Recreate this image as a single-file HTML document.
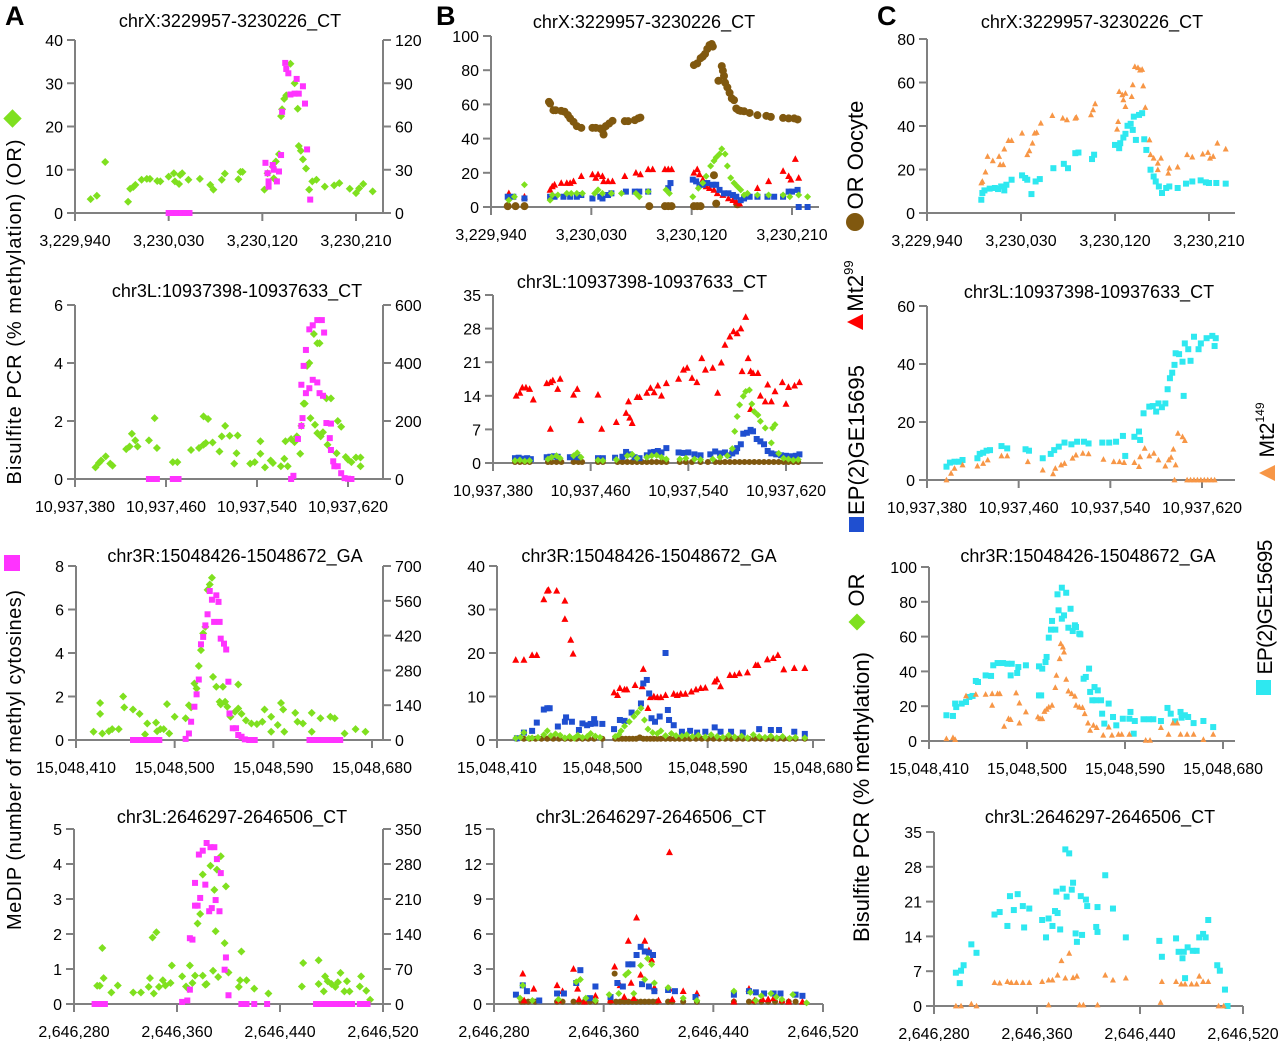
<!DOCTYPE html>
<html><head><meta charset="utf-8"><style>
html,body{margin:0;padding:0;background:#fff}
svg{display:block;font-family:"Liberation Sans",Arial,sans-serif}
</style></head><body>
<svg id="fig" width="1280" height="1044" viewBox="0 0 1280 1044" xmlns="http://www.w3.org/2000/svg">
<rect width="1280" height="1044" fill="#fff"/>
<text x="5" y="25" font-size="27" font-weight="bold">A</text>
<text x="436" y="25" font-size="27" font-weight="bold">B</text>
<text x="877" y="25" font-size="27" font-weight="bold">C</text>
<g>
<rect x="6" y="112" width="13" height="13" fill="#7fe01f" transform="rotate(45 12.5 118.5)"/>
<text transform="translate(21,312) rotate(-90)" text-anchor="middle" font-size="20" textLength="345">Bisulfite PCR  (% methylation) (OR)</text>
<rect x="4" y="555" width="16" height="16" fill="#ff33ff"/>
<text transform="translate(21,760) rotate(-90)" text-anchor="middle" font-size="20" textLength="340">MeDIP (number of methyl cytosines)</text>
</g>
<g>
<circle cx="855" cy="222" r="9" fill="#80580f"/>
<text transform="translate(863,155) rotate(-90)" text-anchor="middle" font-size="22">OR Oocyte</text>
<polygon points="847,330 863,330 855,314" fill="#ff0000" transform="rotate(-90 855 322)"/>
<text transform="translate(863,286) rotate(-90)" text-anchor="middle" font-size="22">Mt2<tspan font-size="13" dy="-10">99</tspan></text>
<rect x="849" y="517" width="15" height="15" fill="#1f4fd0"/>
<text transform="translate(864,440) rotate(-90)" text-anchor="middle" font-size="22" textLength="150">EP(2)GE15695</text>
<rect x="851" y="616" width="12" height="12" fill="#7fe01f" transform="rotate(45 857 622)"/>
<text transform="translate(864,590) rotate(-90)" text-anchor="middle" font-size="22">OR</text>
<text transform="translate(869,797) rotate(-90)" text-anchor="middle" font-size="22" textLength="290">Bisulfite PCR  (% methylation)</text>
</g>
<g>
<polygon points="1259,481 1275,481 1267,465" fill="#f79646" transform="rotate(-90 1267 473)"/>
<text transform="translate(1274,430) rotate(-90)" text-anchor="middle" font-size="21">Mt2<tspan font-size="12" dy="-10">149</tspan></text>
<rect x="1256" y="680" width="15" height="15" fill="#2ee8f0"/>
<text transform="translate(1272,607) rotate(-90)" text-anchor="middle" font-size="21" textLength="135">EP(2)GE15695</text>
</g>
</svg>
<script>
// ---------- DATA (offsets from region start, value) ----------
const a1OrPts=[[15,3.2],[21,4],[29,11.8],[51,2.6],[53,5.6],[56,6],[58,6.5],[64,7.7],[69,7.9],[72,7.9],[79,7.4],[82,7.3],[90,8.4],[95,9.2],[96,7.3],[100,6.7],[101,8.8],[103,9.2],[109,7.7],[120,7.9],[130,6.5],[133,5.4],[141,7.7],[144,9.1],[157,7.8],[159,9.5],[161,9.5],[182,5.4],[185,9.2],[190,10.7],[191,8],[193,11.9],[196,13.6],[198,22.4],[199,24],[201,26.4],[203,27.2],[207,34.5],[211,30],[214,24.1],[215,15.5],[217,14.4],[219,12.4],[222,10.3],[225,5.4],[228,7.3],[232,7.7],[240,6.1],[249,6.4],[254,6.9],[264,5.6],[270,4.6],[273,5.7],[277,6.7],[286,5]];
const a1MedipPts=[[90,0],[94,0],[98,0],[102,0],[106,0],[110,0],[183,11.6],[185,9.2],[186,7.3],[186,6.1],[190,11.1],[191,10],[194,7.3],[196,9.6],[198,13.4],[199,23.4],[202,34.7],[203,33.3],[205,32.3],[207,27.4],[211,27.6],[213,31],[215,27.6],[219,29.3],[221,25.3],[223,14.7],[226,3.1]];
const a2OrPts=[[18,0.4],[21,0.55],[23,0.64],[27,0.78],[31,0.53],[33,0.46],[45,1.03],[48,1.12],[50,1.56],[53,1.33],[55,1.12],[65,1.33],[70,2.1],[72,1.07],[86,0.58],[90,0.58],[102,1],[109,1.07],[113,1.18],[115,1.24],[113,2.16],[117,2.07],[121,1.26],[127,0.95],[129,1.47],[132,1.83],[136,1.49],[140,0.53],[142,0.89],[143,1.5],[154,0.53],[158,0.58],[163,0.87],[163,1.3],[167,0.4],[172,0.64],[174,0.55],[181,0.44],[184,0.7],[185,1.3],[187,0.44],[190,1.38],[193,1.27],[195,1.47],[198,0.87],[199,1.83],[201,2.6],[202,2.6],[204,3.9],[206,4],[207,2.1],[210,5],[211,1.87],[213,4.68],[215,4.68],[213,1.58],[216,1.47],[218,1.61],[221,2.78],[222,1.18],[225,2.78],[230,0.89],[231,2],[234,1.8],[238,0.76],[240,0.67],[243,0.58],[247,0.74],[251,0.74],[251,0.44]];
const a2MedipPts=[[65,0],[67,0],[70,0],[72,0],[86,0],[88,0],[91,0],[190,0],[192,0.11],[196,1.38],[199,1.83],[200,2.1],[199,3.25],[201,3.9],[203,4.45],[206,5.16],[209,5.3],[213,5.48],[217,5.48],[219,5.05],[203,2.96],[206,3.13],[209,3.42],[213,3.33],[215,2.96],[218,2.87],[221,1.93],[225,1.91],[224,1.41],[225,1],[227,0.61],[228,0.44],[231,0.44],[234,0.2],[237,0.03],[240,0.01],[243,0]];
const a3OrPts=[[16,0.38],[22,1.2],[22,1.7],[24,0.3],[30,0.4],[33,0.5],[39,0.5],[43,2],[44,1.5],[52,1.4],[58,1.2],[63,0.26],[65,0.76],[73,0.8],[74,0.4],[77,0.5],[80,0.5],[83,1.65],[85,0.3],[90,1.07],[100,1],[103,1.6],[105,1.5],[108,2.6],[110,2.37],[112,3.4],[114,4.13],[116,4.9],[118,5.2],[120,6.9],[122,7.15],[124,7.46],[125,2.9],[128,2.45],[131,1.76],[132,1.64],[134,2.45],[136,1.76],[138,1.53],[141,1.07],[145,1.3],[148,2.55],[148,1.45],[151,1.2],[155,0.9],[160,0.76],[165,0.73],[170,0.84],[172,1.4],[178,1.07],[178,0.38],[184,0.69],[187,1.7],[189,1.4],[190,0.38],[200,1.25],[202,0.84],[207,0.76],[215,1.25],[215,0.38],[223,1],[232,1.07],[236,1],[245,0.3],[255,0.5],[264,0.38]];
const a3MedipPts=[[52,0],[56,0],[60,0],[64,0],[68,0],[72,0],[76,0],[100,0.05],[103,0.3],[105,0.84],[108,1.53],[110,2.1],[112,2.78],[114,4.4],[116,4.74],[118,5.27],[120,5.78],[122,6.85],[124,6.45],[126,5.43],[128,6.65],[130,6.35],[131,5.43],[132,4.66],[135,4.43],[137,4.16],[139,2.68],[140,1.22],[143,0.54],[146,0.54],[148,0.23],[151,0.15],[154,0.03],[158,0],[163,0],[213,0],[218,0],[222,0],[226,0],[230,0],[234,0],[238,0],[241,0]];
const a4OrPts=[[18,0.52],[20,0.52],[22,1.6],[23,0.74],[29,0.33],[34,0.53],[46,0.33],[52,0.33],[58,0.49],[59,0.74],[61,1.9],[62,0.3],[64,2.05],[66,0.49],[69,0.68],[71,0.53],[75,0.6],[76,1.1],[84,0.79],[87,0.5],[89,0.43],[90,1.1],[92,0.6],[94,0.81],[96,2.3],[98,2.57],[100,3.7],[100,0.81],[102,0.55],[103,0.57],[106,3.95],[108,0.95],[109,3.26],[110,2.08],[111,3.84],[112,0.77],[114,4.22],[117,1.74],[118,3.36],[120,0.9],[128,0.49],[129,0.68],[130,1.5],[134,0.68],[140,0.44],[151,0.3],[177,0.5],[178,1.17],[190,0.57],[190,1.25],[194,0.36],[195,0.79],[197,0.65],[200,0.57],[203,0.49],[205,0.62],[207,0.89],[210,0.36],[212,0.65],[214,0.36],[222,0.5],[223,0.79],[227,0.38],[230,0.12]];
const a4MedipPts=[[16,0],[18,0],[20,0],[22,0],[24,0],[84,0.06],[88,0.1],[90,0.41],[90,1.88],[92,1.84],[94,3.46],[94,2.81],[96,2.81],[97,4.27],[98,3.03],[100,4.38],[102,3.41],[103,4.6],[105,2.65],[106,4.48],[107,2.74],[109,4.48],[110,2.97],[111,4.14],[113,2.65],[114,3.74],[117,0.98],[118,1.33],[120,0.25],[130,0],[132,0],[134,0],[140,0],[150,0],[188,0],[192,0],[196,0],[200,0],[204,0],[208,0],[212,0],[216,0],[222,0],[225,0],[228,0]];

const b1OocytePts=[[52,61.5],[53,60.5],[56,56.6],[58,56.6],[63,56.2],[66,55.7],[69,53.7],[71,51.8],[74,49.8],[77,47.3],[81,46.3],[91,46.3],[94,46.3],[98,45.9],[100,44.9],[101,42.4],[103,47.3],[106,48.8],[109,50.4],[120,50.2],[123,50.2],[129,50.8],[132,51.8],[134,52.3],[15,0.5],[22,0.5],[30,0.5],[142,0.5],[156,0.5],[159,0.5],[162,0.5],[182,0.5],[185,0.5],[188,0.5],[182,83],[185,84],[188,87],[190,88],[192,89.5],[194,92.4],[196,94.7],[198,95.3],[199,93.8],[200,18.6],[202,2],[204,73.8],[207,82.4],[208,79.7],[209,76.6],[210,72.7],[212,70],[214,66.8],[216,63.5],[218,62.5],[220,57.6],[222,56.6],[224,56.2],[227,56],[232,55],[239,53.7],[247,53.3],[251,52.7],[262,52.1],[267,51.8],[272,51.8],[275,51.2],[221,1.6]];
const b1Mt2Pts=[[16,8],[30,6],[53,10],[55,12],[57,13],[63,14],[68,14],[71,14],[74,15],[81,18],[91,19],[94,17],[96,19],[100,18],[101,15],[105,15],[109,15],[120,18],[130,20],[134,19],[141,22],[145,22],[156,22],[159,22],[162,22],[182,20],[185,22],[187,19],[190,16],[193,12],[196,11],[200,10],[203,8],[208,7],[213,5],[217,4],[220,3],[223,2],[239,11],[249,15],[262,21],[267,18],[269,16],[273,28],[276,17]];
const b1EpPts=[[15,6],[20,6],[30,5],[53,6],[57,6],[65,6],[71,6],[77,6],[81,7],[91,5],[98,6],[100,5],[105,7],[108,8],[121,9],[129,9],[133,9],[141,9],[159,11],[161,14],[181,16],[184,15],[187,13],[190,13],[194,14],[199,13],[202,13],[205,10],[209,8],[213,8],[217,7],[220,6],[224,4],[227,5],[232,6],[239,6],[248,6],[254,6],[262,6],[267,9],[270,9],[275,10],[276,0],[284,0]];
const b1OrPts=[[16,4],[21,6],[30,13],[53,4],[55,7],[60,7],[68,8],[72,8],[77,8],[82,8],[93,8],[96,10],[100,8],[108,8],[117,8],[130,8],[133,6],[141,9],[157,10],[160,8],[181,6],[186,11],[190,14],[193,18],[197,24],[200,27],[202,29],[205,31],[207,34],[210,31],[212,24],[215,17],[218,14],[221,12],[224,10],[227,7],[230,8],[239,7],[249,7],[262,7],[268,6],[276,7],[284,6]];

const b2Mt2Pts=[[19,14],[22,14.6],[24,15.7],[27,15.7],[30,15.4],[33,13.2],[44,16.6],[47,16.8],[47,7.1],[49,17.2],[53,15.4],[55,17.5],[66,14.2],[69,15.4],[72,8.9],[86,14.2],[89,7.1],[101,8.5],[109,10.4],[111,12.8],[112,9.4],[114,8.3],[118,13.7],[120,13.7],[126,14.6],[129,15.6],[132,14.7],[135,16.1],[138,14],[142,16.6],[152,17.5],[156,19.4],[159,19.8],[163,17.7],[167,16.8],[171,21.8],[174,19.4],[180,19.8],[184,14.6],[187,20.9],[190,24.6],[194,26.3],[197,27.4],[200,27],[203,28],[207,30.4],[209,21.8],[211,19.1],[204,19.1],[211,11.2],[213,18.7],[217,18.7],[219,14],[223,12.8],[225,16.3],[228,12.8],[231,14.9],[237,16.8],[240,12.3],[242,15.8],[247,16.1],[251,16.8]];
const b2EpPts=[[18,1],[21,1.1],[24,0.9],[28,1],[31,0.8],[44,1.2],[47,1.3],[50,1.4],[53,1.3],[63,1.2],[67,1.3],[70,1.2],[86,1],[90,1],[100,1.1],[106,1.3],[109,2.3],[112,1.8],[116,1.2],[120,1],[126,1.6],[129,2.2],[132,2.3],[135,2.5],[138,2.2],[142,3.1],[152,2.2],[156,2.1],[160,2.2],[165,1.8],[170,1.6],[178,1.8],[182,2.4],[186,2],[190,2.2],[193,1.6],[196,2],[199,2.4],[200,3.1],[203,3.9],[205,6.1],[208,6.3],[211,6.9],[213,6.6],[216,5],[219,4.5],[222,3.9],[225,2.5],[228,2],[232,1.8],[236,1.6],[240,1.5],[244,1.4],[248,1.5],[251,1.8]];
const b2OrPts=[[18,0.5],[22,0.6],[26,0.4],[30,0.5],[45,0.8],[48,1.2],[52,1.5],[55,1],[66,1.5],[69,2.1],[72,1.2],[86,0.6],[90,0.5],[101,0.7],[110,1.5],[114,1.8],[118,1],[126,1.2],[130,1.5],[134,1.6],[138,1.2],[142,0.8],[153,0.8],[158,1],[165,0.8],[170,0.7],[180,0.8],[186,1.2],[192,1.5],[196,3],[198,6.6],[200,9.7],[202,12.1],[205,13.9],[207,14.9],[210,15.2],[212,12.3],[214,10.7],[217,10],[219,8.7],[223,7.3],[228,4.2],[229,7.3],[231,8],[234,2],[238,1],[242,0.8],[246,0.6],[250,0.7]];
const b2OocytePts=[[18,0.2],[22,0.2],[26,0.2],[30,0.2],[45,0.2],[48,0.2],[52,0.2],[56,0.2],[66,0.2],[70,0.2],[73,0.2],[86,0.2],[90,0.2],[102,0.2],[106,0.2],[110,0.2],[114,0.2],[118,0.2],[122,0.2],[126,0.2],[130,0.2],[134,0.2],[138,0.2],[142,0.2],[153,0.2],[158,0.2],[163,0.2],[170,0.2],[176,0.2],[182,0.2],[186,0.2],[190,0.2],[194,0.2],[198,0.2],[202,0.2],[206,0.2],[210,0.2],[214,0.2],[218,0.2],[222,0.2],[226,0.2],[230,0.2],[234,0.2],[238,0.2],[242,0.2],[246,0.2],[250,0.2]];

const b3Mt2Pts=[[16,18.4],[23,18.4],[30,19.5],[34,19.5],[40,32.3],[43,34.3],[44,34.5],[51,34.3],[58,32],[58,27.8],[63,23],[65,19.8],[100,10.9],[103,10.3],[105,11.9],[109,11.6],[111,11.6],[118,12.6],[124,12.3],[125,16.3],[129,7.3],[131,9.8],[134,10],[137,9.8],[140,9.8],[144,10.3],[151,10.6],[154,10.3],[157,10.6],[161,10.6],[166,11.1],[170,11.6],[174,11.9],[178,12],[186,13.4],[188,13.9],[191,12.3],[199,14.9],[203,14.9],[207,15.3],[214,15.5],[221,17.2],[223,17.2],[231,18.5],[236,18.8],[240,19.5],[245,16.2],[254,16.5],[263,16.5]];
const b3EpPts=[[17,0.4],[23,1.7],[30,2.1],[34,4],[40,7],[43,7.3],[45,7.3],[52,3.1],[58,4.2],[59,5.2],[64,4.2],[70,2.3],[73,3.8],[77,3.4],[80,3.7],[83,4.8],[84,3.8],[90,3.7],[100,2.5],[105,4.6],[109,4.4],[115,6.3],[123,8.4],[125,13],[128,13.8],[130,10.7],[132,5],[135,4.2],[139,5.4],[144,20],[146,6.9],[147,4.6],[151,3.4],[158,1.9],[165,2.1],[171,1.7],[178,1.9],[186,2.9],[191,1.9],[200,1.9],[210,1.7],[224,2.5],[234,2.3],[241,2.3],[254,1.9],[263,1.4]];
const b3OrPts=[[16,0.4],[20,0.6],[23,1.7],[27,0.4],[30,0.5],[35,0.6],[40,1.2],[43,2.1],[46,1],[50,1.4],[54,1.1],[58,0.5],[62,0.8],[66,0.4],[69,1.1],[73,0.6],[77,0.8],[80,1.5],[84,0.9],[88,0.6],[101,0.8],[104,1.2],[106,2.1],[109,3.2],[113,4.2],[117,5.4],[120,6.3],[123,7.3],[126,4.6],[129,2.5],[133,1.7],[137,1.5],[140,2.1],[144,1],[149,1.5],[153,1],[158,0.9],[162,1.2],[167,0.8],[172,1.1],[178,0.7],[183,1.2],[188,0.8],[193,0.6],[198,1.1],[203,0.7],[209,0.9],[214,0.5],[219,1.2],[224,0.8],[229,0.6],[234,0.9],[239,0.5],[244,0.8],[250,0.4],[255,0.6],[263,0.5]];
const b3OocytePts=[[17,0.3],[23,0.3],[28,0.3],[33,0.3],[38,0.3],[43,0.3],[48,0.3],[53,0.3],[58,0.3],[63,0.3],[68,0.3],[73,0.3],[78,0.3],[83,0.3],[90,0.3],[101,0.3],[104,0.3],[107,0.3],[110,0.3],[113,0.3],[116,0.3],[119,0.3],[122,0.6],[125,0.3],[128,0.3],[131,0.3],[134,0.3],[137,0.3],[140,0.3],[144,0.3],[148,0.3],[152,0.3],[156,0.3],[160,0.3],[165,0.3],[170,0.3],[175,0.3],[180,0.3],[185,0.3],[190,0.3],[195,0.3],[200,0.3],[205,0.3],[210,0.3],[215,0.3],[220,0.3],[225,0.3],[230,0.3],[235,0.3],[240,0.3],[245,0.3],[250,0.3],[255,0.3],[263,0.3]];

const b4Mt2Pts=[[21,2.6],[29,1.3],[46,1.6],[50,1.1],[58,3],[61,1.3],[74,0.7],[88,3.2],[92,1.6],[98,5.4],[100,1.8],[104,7.4],[107,2.5],[110,5.4],[113,4.6],[115,3.8],[117,1.4],[128,13],[128,1.3],[138,1.1],[148,0.9],[175,0.2],[186,1.3],[196,0.4],[204,0.5],[22,0.3],[47,0.3],[62,0.4],[66,0.2],[85,0.3],[95,0.6],[102,0.5],[120,0.3],[130,0.4],[190,0.3],[200,0.4],[210,0.3],[215,0.2],[225,0.2]];
const b4EpPts=[[16,0.8],[21,1.6],[24,1.1],[33,0.3],[46,0.9],[51,0.9],[60,1.8],[63,2.9],[70,0.5],[74,1.5],[85,0.6],[90,1.8],[94,1.5],[98,3.4],[101,3.4],[104,4.2],[107,4.9],[110,4.5],[113,4.4],[116,4.2],[108,1.7],[113,1.5],[117,1.1],[127,1.2],[132,1.1],[147,0.6],[175,0.8],[186,1.1],[191,1],[197,0.9],[204,0.9],[209,0.9],[220,0.8],[225,0.7]];
const b4OrPts=[[19,0.5],[21,1.6],[28,0.3],[47,0.4],[60,1.9],[63,2.1],[67,0.5],[74,0.3],[84,0.8],[91,0.9],[96,2.5],[98,2.7],[102,0.9],[107,3.3],[110,2.1],[112,3.9],[115,3.4],[117,1.8],[127,1.4],[138,0.5],[148,0.3],[175,1.1],[187,1],[191,0.3],[195,0.7],[202,0.9],[206,0.6],[210,0.4],[218,0.8],[228,0.1]];
const b4OocytePts=[[20,0.2],[22,0.2],[25,0.2],[30,0.2],[46,0.2],[50,0.2],[58,0.2],[62,0.2],[66,0.2],[70,0.2],[74,0.2],[85,0.2],[88,2.6],[89,0.2],[92,0.2],[95,0.2],[98,0.2],[101,0.2],[104,0.2],[107,0.2],[110,0.2],[113,0.2],[116,0.2],[119,0.2],[127,0.2],[130,0.2],[138,0.2],[148,0.2],[175,0.2],[186,0.2],[190,0.2],[195,0.2],[200,0.2],[205,0.2],[210,0.2],[215,0.2],[220,0.2]];

const c1Mt2Pts=[[52,13.8],[53,14.5],[56,18.8],[58,26],[63,24],[69,26],[70,22.2],[73,22.2],[74,29.4],[78,33.3],[81,33.3],[91,36.7],[96,26.8],[98,28.6],[101,32.1],[103,36.7],[105,37],[109,41.3],[120,44.8],[130,43.6],[134,42.8],[142,43.6],[143,44],[157,45.1],[159,47.4],[161,50.2],[182,38.5],[183,42],[184,55.8],[187,54.3],[188,52],[190,55],[190,48.9],[196,53.5],[197,58.9],[199,67.3],[202,66.8],[204,65.7],[206,66],[207,58.4],[209,48.5],[213,33.6],[214,26.8],[217,25.2],[221,22.9],[224,25.2],[221,19.9],[232,20.6],[231,18.3],[240,21.1],[249,26.8],[254,25.7],[264,27.1],[269,27.8],[271,25.2],[274,26],[278,32.1],[286,29.4]];
const c1EpPts=[[52,6.1],[53,9.2],[55,10.4],[60,11.2],[65,11.5],[68,11],[71,12.2],[74,10.4],[76,13],[81,15.3],[91,17.3],[94,16.1],[96,15.3],[100,8.7],[104,14.5],[108,15.6],[121,20.6],[131,22.6],[135,20.6],[142,27.5],[145,27.8],[158,24.8],[160,26.8],[180,31.3],[184,29.8],[185,32.1],[188,34.7],[190,36.4],[192,40.1],[195,41],[197,38.2],[200,33.6],[198,44.3],[203,45.1],[206,45.9],[208,33.9],[210,29],[214,19.9],[217,16.8],[219,14.5],[222,12.2],[225,9.2],[229,11.5],[232,12.2],[240,11.5],[248,13.5],[254,14.5],[262,15],[267,14.1],[270,13.8],[277,13.8],[286,13.5]];
const c2EpPts=[[17,4.6],[20,6],[24,6.3],[28,6.3],[31,6.9],[44,7.5],[46,9],[49,9.4],[52,10.1],[55,10.3],[65,11.7],[70,10.9],[86,10.6],[89,10.1],[101,7.5],[108,9],[111,10.3],[115,11.5],[120,12.9],[126,12.3],[131,13.2],[137,13.2],[141,12.6],[153,12.9],[159,12.9],[165,13.2],[171,15.2],[173,8.3],[181,14.9],[185,16.7],[186,13.8],[189,23],[194,25.3],[197,25.5],[200,23.6],[202,26.4],[205,25.1],[208,26.4],[210,31.3],[212,35.1],[214,37],[216,39.7],[217,43.7],[220,43.4],[223,40.8],[224,29],[225,47.1],[228,45.1],[230,41.1],[233,49.4],[237,45.1],[239,47.1],[244,48.9],[249,49.7],[252,48.9],[251,46.2]];
const c2Mt2Pts=[[17,0],[21,2.3],[24,4],[31,5.2],[44,4.8],[49,5.7],[53,6.9],[65,8.3],[70,8.3],[88,6.3],[101,3.4],[110,2.1],[112,4],[117,5.2],[120,5.7],[127,7.5],[130,8.6],[136,9.2],[141,9],[154,7.1],[163,6.3],[168,6.3],[172,6],[181,6],[185,4.6],[186,8],[190,10.9],[194,8.3],[198,9.2],[202,6.9],[208,4.8],[211,6.9],[213,7.8],[215,10.6],[217,5.2],[219,16.1],[223,14.9],[225,13.6],[216,0],[227,0],[230,0],[233,0],[236,0],[239,0],[242,0],[245,0],[248,0],[251,0]];
const c3EpPts=[[16,14.8],[22,14.4],[24,21.5],[25,19.5],[30,21.5],[34,22.4],[37,25.3],[40,25.9],[43,34.5],[45,33.9],[52,37.7],[57,37.4],[59,43.5],[63,44.8],[68,44.8],[72,44.4],[75,37.7],[76,44.4],[81,39.1],[82,42.5],[89,43.5],[101,26.2],[103,26.2],[101,42.9],[104,41.6],[107,45.4],[108,48.3],[110,59.4],[112,64],[113,69],[116,64],[118,84.3],[119,75.1],[122,70.3],[122,88.1],[124,72.2],[126,85.2],[128,65.1],[130,76],[132,63.2],[134,66.5],[135,65.5],[138,61.7],[139,61.3],[142,35.8],[144,36.8],[147,41.6],[148,28.2],[150,23.4],[152,31],[153,23.4],[155,29.1],[158,23.4],[159,15.7],[161,10],[165,21.5],[169,13.8],[172,9],[178,12.8],[184,12.8],[185,16.7],[188,4.2],[189,11.5],[197,12.5],[202,12.5],[206,12.5],[213,11.5],[219,19],[222,15.7],[226,11.3],[231,16.7],[232,13.4],[235,14.8],[238,13.8],[243,10.3],[252,11.5],[261,8]];
const c3Mt2Pts=[[16,1.3],[22,1.9],[24,0.8],[34,25.9],[43,26.8],[52,26.8],[58,20.5],[58,27.2],[63,27.2],[65,27.2],[69,8.4],[73,12.8],[75,12.3],[80,27.6],[83,21.8],[83,10.3],[89,16.7],[100,13.8],[102,12.8],[104,12.8],[106,17],[108,18.2],[110,19.5],[113,20.5],[116,30.7],[117,37.7],[120,47.3],[121,55.9],[123,54],[124,51.1],[126,35.4],[128,28.7],[131,27.2],[134,25.7],[135,20.5],[138,19.5],[141,19.2],[143,15.7],[146,10.3],[148,6.1],[151,9],[154,7.7],[160,3.3],[165,8],[168,3.3],[174,3.8],[177,3.8],[184,3.8],[199,0.4],[203,0.4],[213,7.7],[220,3.8],[224,10.3],[228,10.3],[231,3.8],[237,3.8],[243,3.8],[252,0.8],[261,3.8]];
const c4EpPts=[[17,6.7],[20,4.6],[21,7.1],[23,8.2],[29,12.4],[33,10.7],[47,18.4],[51,18.9],[57,16.1],[59,22.1],[62,19.3],[65,22.5],[69,20.1],[70,15.8],[74,19.6],[84,17.3],[87,13.8],[89,17.6],[92,16.1],[94,19.1],[96,18.7],[98,15.4],[95,23],[100,23.6],[102,31.5],[105,30.7],[103,22],[107,23.4],[108,24.8],[110,14.6],[111,12.9],[115,14.3],[114,22.1],[118,21.4],[119,20.1],[127,19.9],[126,15.9],[127,14.9],[133,26.3],[139,19.6],[149,13.8],[175,13.1],[177,9.9],[188,13.6],[190,10.9],[193,9.6],[194,10.9],[195,5.6],[197,11.8],[201,11.1],[204,11.1],[206,13.8],[209,14.5],[211,13.8],[213,17.3],[220,8.2],[222,7.1],[226,3.3],[228,0]];
const c4Mt2Pts=[[17,0],[21,0],[29,0.4],[33,0],[47,4.7],[51,4.6],[57,4.9],[60,4.7],[64,4.7],[69,4.7],[74,4.7],[84,4.9],[89,0.2],[89,5.2],[92,5.2],[96,6.2],[99,9.1],[102,5.6],[105,10.6],[108,5.7],[111,6],[113,0.2],[116,0.2],[127,0.2],[133,6.2],[139,5.2],[149,5.6],[176,0.7],[177,4.9],[188,4.9],[192,4.4],[195,4.4],[200,4.4],[204,4.4],[206,6],[209,4.9],[213,4.9],[221,0],[225,0]];

const panelTitles=["chrX:3229957-3230226_CT","chr3L:10937398-10937633_CT","chr3R:15048426-15048672_GA","chr3L:2646297-2646506_CT"];
const regionStarts=[3229940,10937380,15048410,2646280];
const regionSteps=[90,80,90,80];
const aLeftMax=[40,6,8,5], aLeftStep=[10,2,2,1];
const aRightMax=[120,600,700,350], aRightStep=[30,200,140,70];
const bYMax=[100,35,40,15], bYStep=[20,7,10,3];
const cYMax=[80,60,100,35], cYStep=[20,20,20,7];

// ---------- RENDERING ----------
const NS="http://www.w3.org/2000/svg";
const svg=document.getElementById('fig');
const GRAY="#808080";
function mk(tag,attrs,parent){const e=document.createElementNS(NS,tag);for(const k in attrs)e.setAttribute(k,attrs[k]);(parent||svg).appendChild(e);return e;}
function fmt(n){return String(n).replace(/\B(?=(\d{3})+(?!\d))/g,",");}

// layout (pixels) per panel
const layouts={
 a:[{L:75,E:383,lp:356,top:40,bot:213,tx:230,ty:27},{L:75,E:383,lp:348,top:305,bot:479,tx:237,ty:297},{L:76,E:383,lp:372,top:566,bot:740,tx:235,ty:562},{L:74,E:383,lp:383,top:829,bot:1004,tx:232,ty:823}],
 b:[{L:491,E:819,lp:792,top:36,bot:207,tx:644,ty:28},{L:493,E:823,lp:786,top:295,bot:463,tx:642,ty:288},{L:497,E:825,lp:813,top:566,bot:740,tx:649,ty:562},{L:494,E:823,lp:823,top:829,bot:1004,tx:651,ty:823}],
 c:[{L:927,E:1235,lp:1209,top:39,bot:213,tx:1092,ty:28},{L:927,E:1235,lp:1202,top:306,bot:480,tx:1089,ty:298},{L:929,E:1235,lp:1223,top:567,bot:741,tx:1088,ty:562},{L:934,E:1243,lp:1243,top:832,bot:1006,tx:1100,ty:823}]
};

function drawAxes(col,i,ymax,ystep,rmax,rstep){
 const lay=layouts[col][i];
 const g=mk('g',{});
 
 
 const d0=regionStarts[i],st=regionSteps[i];
 const xs=v=>lay.L+(v-d0)*(lay.lp-lay.L)/(3*st);
 const ys=v=>lay.bot-v*(lay.bot-lay.top)/ymax;
 const t=mk('text',{x:lay.tx,y:lay.ty,'text-anchor':'middle','font-size':18},g);
 t.textContent=panelTitles[i];
 
 
 const ya=mk('line',{x1:lay.L,y1:lay.top,x2:lay.L,y2:lay.bot,stroke:GRAY,'stroke-width':2},g);
 
 
 const xa=mk('line',{x1:lay.L,y1:lay.bot,x2:lay.E,y2:lay.bot,stroke:GRAY,'stroke-width':2},g);
 
 
 for(let v=0;v<=ymax+1e-9;v+=ystep){
  const y=ys(v);
  mk('line',{x1:lay.L-8,y1:y,x2:lay.L,y2:y,stroke:GRAY,'stroke-width':2},g);
  const tl=mk('text',{x:lay.L-12,y:y+6,'text-anchor':'end','font-size':16},g);
  tl.textContent=String(Math.round(v*10)/10);
  
  
 }
 for(let k=0;k<4;k++){
  const v=d0+k*st,x=xs(v);
  mk('line',{x1:x,y1:lay.bot,x2:x,y2:lay.bot+8,stroke:GRAY,'stroke-width':2},g);
  const tl=mk('text',{x:x,y:lay.bot+33,'text-anchor':'middle','font-size':16},g);
  tl.textContent=fmt(v);
  
  
 }
 if(rmax){
  const ra=mk('line',{x1:lay.E,y1:lay.top,x2:lay.E,y2:lay.bot,stroke:GRAY,'stroke-width':2},g);
  
  
  for(let v=0;v<=rmax;v+=rstep){
   const y=lay.bot-v*(lay.bot-lay.top)/rmax;
   mk('line',{x1:lay.E,y1:y,x2:lay.E+8,y2:y,stroke:GRAY,'stroke-width':2},g);
   const tl=mk('text',{x:lay.E+12,y:y+6,'font-size':16},g);
   tl.textContent=String(v);
   
   
  }
 }
 return {g,xs,ys,d0};
}

function plot(ax,pts,shape,color,size,name){
 const sg=mk('g',{fill:color},ax.g);
 
 
 for(const p of pts){
  const x=ax.xs(ax.d0+p[0]),y=ax.ys(p[1]);
  let el;
  if(shape==='sq') el=mk('rect',{x:x-size/2,y:y-size/2,width:size,height:size},sg);
  else if(shape==='dia') el=mk('polygon',{points:`${x},${y-size/2} ${x+size/2},${y} ${x},${y+size/2} ${x-size/2},${y}`},sg);
  else if(shape==='tri') el=mk('polygon',{points:`${x},${y-size*0.55} ${x+size/2},${y+size*0.4} ${x-size/2},${y+size*0.4}`},sg);
  else el=mk('circle',{cx:x,cy:y,r:size/2},sg);
  
  
 }
}

const GREEN="#7fe01f",MAG="#ff33ff",RED="#ff0000",BLUE="#1f4fd0",BROWN="#80580f",CYAN="#2ee8f0",ORANGE="#f79646";
// Column A
const aOr=[a1OrPts,a2OrPts,a3OrPts,a4OrPts], aMe=[a1MedipPts,a2MedipPts,a3MedipPts,a4MedipPts];
for(let i=0;i<4;i++){
 const ax=drawAxes('a',i,aLeftMax[i],aLeftStep[i],aRightMax[i],aRightStep[i]);
 plot(ax,aOr[i],'dia',GREEN,8,'or-bisulfite-series');
 plot(ax,aMe[i],'sq',MAG,6,'medip-series');
}
// Column B
const bMt=[b1Mt2Pts,b2Mt2Pts,b3Mt2Pts,b4Mt2Pts], bEp=[b1EpPts,b2EpPts,b3EpPts,b4EpPts], bOr=[b1OrPts,b2OrPts,b3OrPts,b4OrPts], bOo=[b1OocytePts,b2OocytePts,b3OocytePts,b4OocytePts];
for(let i=0;i<4;i++){
 const ax=drawAxes('b',i,bYMax[i],bYStep[i]);
 plot(ax,bOo[i],'circ',BROWN,i===0?8:6,'or-oocyte-series');
 plot(ax,bMt[i],'tri',RED,7,'mt2-99-series');
 plot(ax,bEp[i],'sq',BLUE,6,'ep2-ge15695-series');
 plot(ax,bOr[i],'dia',GREEN,7,'or-series');
}
// Column C
const cMt=[c1Mt2Pts,c2Mt2Pts,c3Mt2Pts,c4Mt2Pts], cEp=[c1EpPts,c2EpPts,c3EpPts,c4EpPts];
for(let i=0;i<4;i++){
 const ax=drawAxes('c',i,cYMax[i],cYStep[i]);
 plot(ax,cEp[i],'sq',CYAN,6,'ep2-ge15695-cyan-series');
 plot(ax,cMt[i],'tri',ORANGE,6,'mt2-149-series');
}
</script>
</body></html>
